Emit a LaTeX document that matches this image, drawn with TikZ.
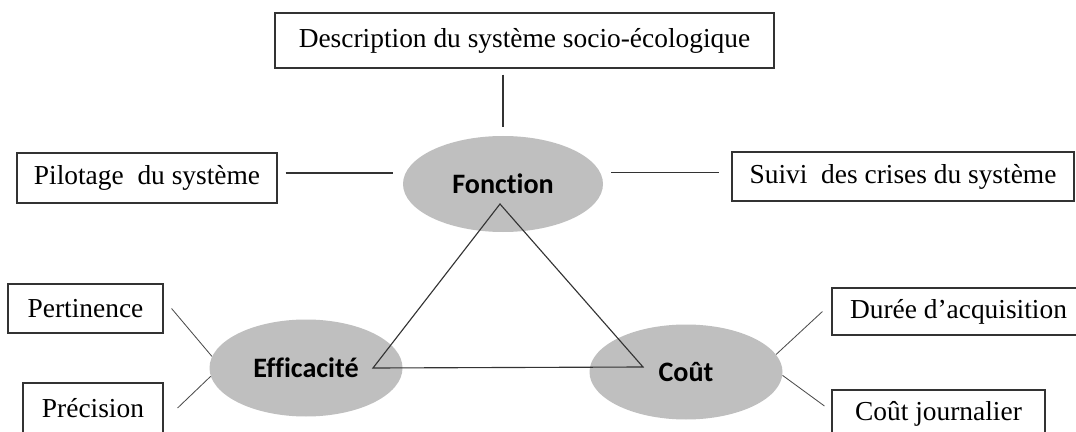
\documentclass[tikz,border=0pt]{standalone}
\usepackage{fontspec}
\setmainfont{Liberation Serif}
\newfontfamily\polefont[Ligatures=CommonOff]{Carlito}
\usepackage{tikz}
\usetikzlibrary{shapes.geometric, calc}
\definecolor{polegray}{RGB}{191,191,191}
\tikzset{
  box/.style={draw=black!80, line width=0.8pt, minimum height=1.25cm, inner sep=0pt, font=\fontsize{19.5}{23}\selectfont},
  pole/.style={ellipse, fill=polegray, minimum width=4.825cm, minimum height=2.425cm, inner sep=0pt, font=\polefont\bfseries\fontsize{20}{24}\selectfont},
  link/.style={draw=black!80, line width=0.8pt},
  spoke/.style={draw=black!70, line width=0.6pt}
}

\begin{document}
\begin{tikzpicture}
        \useasboundingbox (0,0) rectangle (26.9,-10.8);

        % Poles
        \node[pole, minimum width=5cm, minimum height=2.4cm] (fonc) at (12.575,-4.6) {Fonction};
        \node[pole] (effi) at (7.65,-9.2) {Efficacité};
        \node[pole, minimum height=2.375cm] (cout) at (17.15,-9.3) {Coût};

        % Boxes
        \node[box, minimum width=12.475cm, minimum height=1.375cm] (desc) at (13.1125,-1.0125) {Description du système socio-écologique};
        \node[box, minimum width=6.5cm] (pilot) at (3.675,-4.45) {Pilotage\ \ du système};
        \node[box, minimum width=8.55cm, minimum height=1.225cm] (suivi) at (22.575,-4.4125) {Suivi\ \ des crises du système};
        \node[box, minimum width=3.875cm, minimum height=1.225cm] (pert) at (2.1375,-7.7125) {Pertinence};
        \node[box, minimum width=3.5cm] (prec) at (2.325,-10.2) {Précision};
        \node[box, minimum width=6.325cm, minimum height=1.175cm] (duree) at (23.9625,-7.7875) {Durée d’acquisition};
        \node[box, minimum width=5.325cm, minimum height=1.2cm] (coutj) at (23.4625,-10.35) {Coût journalier};

        % Triangle
        \draw[link] ([shift={(-0.075,-0.5)}]fonc.center) -- ([xshift=1.675cm]effi.center)
              -- ([shift={(-1.075,0.125)}]cout.center) -- cycle;

        % Links to Fonction
        \draw[link, shorten <=0.15cm, shorten >=0.225cm] (desc.south -| fonc.north) -- (fonc.north);
        \draw[link, shorten <=0.2cm, shorten >=0.25cm] ([yshift=0.125cm]pilot.east) -- ([yshift=0.125cm]pilot.east -| fonc.west);
        \draw[link, shorten <=0.2cm, shorten >=0.3cm] ([yshift=0.1cm]suivi.west -| fonc.east) -- ([yshift=0.1cm]suivi.west);

        % Spokes
        \draw[spoke] ([xshift=0.2cm]pert.east) -- (effi.173);
        \draw[spoke] ([xshift=0.35cm]prec.east) -- (effi.185);
        \draw[spoke] (cout.11) -- ([xshift=-0.225cm]duree.west);
        \draw[spoke] (cout.-2) -- ([shift={(-0.175,0.2)}]coutj.west);
\end{tikzpicture}
\end{document}
